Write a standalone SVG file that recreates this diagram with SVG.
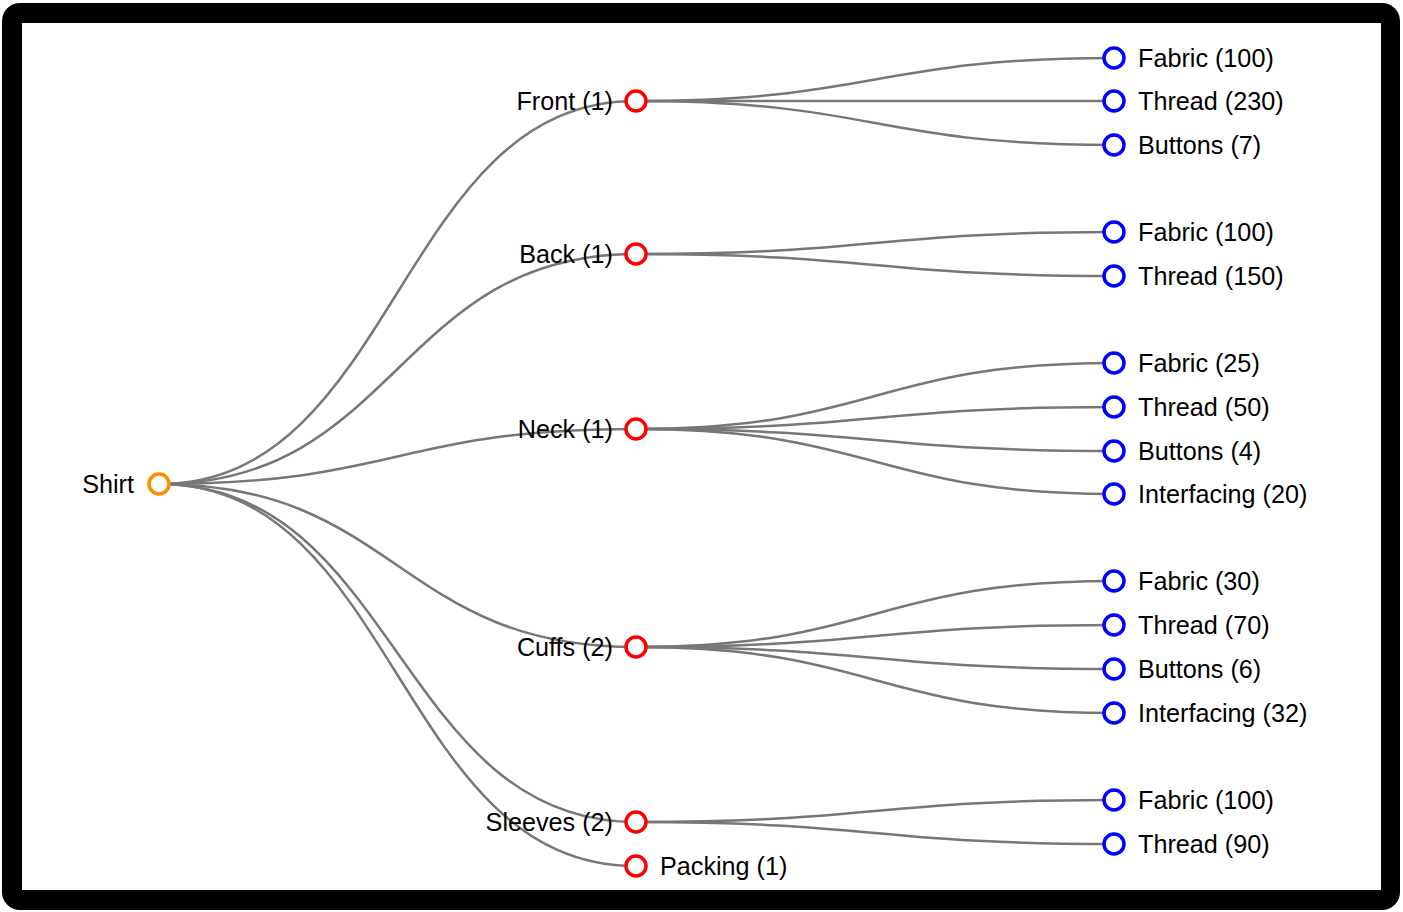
<svg xmlns="http://www.w3.org/2000/svg" width="1403" height="912" viewBox="0 0 1403 912">
<style>
.link{fill:none;stroke:#777;stroke-width:2.5}
.node circle{fill:#fff;stroke-width:3.5}
.root circle{stroke:#ff8c00}
.mid circle{stroke:#f00}
.leaf circle{stroke:#00f}
text{font-family:"Liberation Sans",Arial,sans-serif;font-size:25.2px;fill:#000}
.l{text-anchor:end}
</style>
<rect x="2" y="3" width="1398" height="907" rx="18" fill="#000"/>
<rect x="22" y="23" width="1359" height="867" fill="#fff"/>
<g id="connectors">
<path class="link" d="M159,484 C397.5,484 397.5,101 636,101"/>
<path class="link" d="M159,484 C397.5,484 397.5,254 636,254"/>
<path class="link" d="M159,484 C397.5,484 397.5,429 636,429"/>
<path class="link" d="M159,484 C397.5,484 397.5,647 636,647"/>
<path class="link" d="M159,484 C397.5,484 397.5,822 636,822"/>
<path class="link" d="M159,484 C397.5,484 397.5,866 636,866"/>
<path class="link" d="M636,101 C875,101 875,58 1114,58"/>
<path class="link" d="M636,101 C875,101 875,101 1114,101"/>
<path class="link" d="M636,101 C875,101 875,145 1114,145"/>
<path class="link" d="M636,254 C875,254 875,232 1114,232"/>
<path class="link" d="M636,254 C875,254 875,276 1114,276"/>
<path class="link" d="M636,429 C875,429 875,363 1114,363"/>
<path class="link" d="M636,429 C875,429 875,407 1114,407"/>
<path class="link" d="M636,429 C875,429 875,451 1114,451"/>
<path class="link" d="M636,429 C875,429 875,494 1114,494"/>
<path class="link" d="M636,647 C875,647 875,581 1114,581"/>
<path class="link" d="M636,647 C875,647 875,625 1114,625"/>
<path class="link" d="M636,647 C875,647 875,669 1114,669"/>
<path class="link" d="M636,647 C875,647 875,713 1114,713"/>
<path class="link" d="M636,822 C875,822 875,800 1114,800"/>
<path class="link" d="M636,822 C875,822 875,844 1114,844"/>
</g>
<g id="shirt" class="node root"><circle cx="159" cy="484" r="10"/><text class="l" x="134" y="493">Shirt</text></g>
<g id="front" class="node mid"><circle cx="636" cy="101" r="10"/><text class="l" x="613" y="110">Front (1)</text></g>
<g id="back" class="node mid"><circle cx="636" cy="254" r="10"/><text class="l" x="613" y="263">Back (1)</text></g>
<g id="neck" class="node mid"><circle cx="636" cy="429" r="10"/><text class="l" x="613" y="438">Neck (1)</text></g>
<g id="cuffs" class="node mid"><circle cx="636" cy="647" r="10"/><text class="l" x="613" y="656">Cuffs (2)</text></g>
<g id="sleeves" class="node mid"><circle cx="636" cy="822" r="10"/><text class="l" x="613" y="831">Sleeves (2)</text></g>
<g id="packing" class="node mid"><circle cx="636" cy="866" r="10"/><text x="660" y="875">Packing (1)</text></g>
<g id="front-fabric" class="node leaf"><circle cx="1114" cy="58" r="10"/><text x="1138" y="67">Fabric (100)</text></g>
<g id="front-thread" class="node leaf"><circle cx="1114" cy="101" r="10"/><text x="1138" y="110">Thread (230)</text></g>
<g id="front-buttons" class="node leaf"><circle cx="1114" cy="145" r="10"/><text x="1138" y="154">Buttons (7)</text></g>
<g id="back-fabric" class="node leaf"><circle cx="1114" cy="232" r="10"/><text x="1138" y="241">Fabric (100)</text></g>
<g id="back-thread" class="node leaf"><circle cx="1114" cy="276" r="10"/><text x="1138" y="285">Thread (150)</text></g>
<g id="neck-fabric" class="node leaf"><circle cx="1114" cy="363" r="10"/><text x="1138" y="372">Fabric (25)</text></g>
<g id="neck-thread" class="node leaf"><circle cx="1114" cy="407" r="10"/><text x="1138" y="416">Thread (50)</text></g>
<g id="neck-buttons" class="node leaf"><circle cx="1114" cy="451" r="10"/><text x="1138" y="460">Buttons (4)</text></g>
<g id="neck-interfacing" class="node leaf"><circle cx="1114" cy="494" r="10"/><text x="1138" y="503">Interfacing (20)</text></g>
<g id="cuffs-fabric" class="node leaf"><circle cx="1114" cy="581" r="10"/><text x="1138" y="590">Fabric (30)</text></g>
<g id="cuffs-thread" class="node leaf"><circle cx="1114" cy="625" r="10"/><text x="1138" y="634">Thread (70)</text></g>
<g id="cuffs-buttons" class="node leaf"><circle cx="1114" cy="669" r="10"/><text x="1138" y="678">Buttons (6)</text></g>
<g id="cuffs-interfacing" class="node leaf"><circle cx="1114" cy="713" r="10"/><text x="1138" y="722">Interfacing (32)</text></g>
<g id="sleeves-fabric" class="node leaf"><circle cx="1114" cy="800" r="10"/><text x="1138" y="809">Fabric (100)</text></g>
<g id="sleeves-thread" class="node leaf"><circle cx="1114" cy="844" r="10"/><text x="1138" y="853">Thread (90)</text></g>
</svg>
